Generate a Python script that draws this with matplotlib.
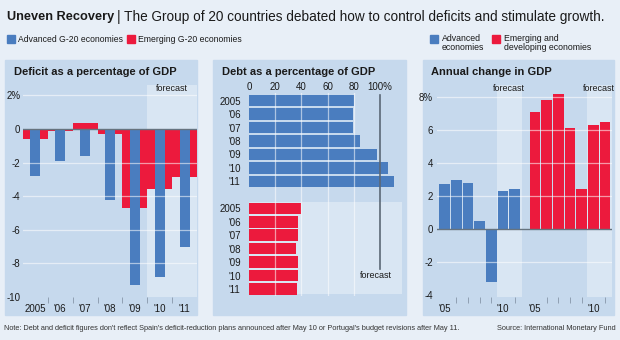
import numpy as np
import matplotlib
matplotlib.use('Agg')
import matplotlib.pyplot as plt
from matplotlib import font_manager
from matplotlib.patches import Rectangle
from matplotlib.text import Annotation

# narrow face if the system has it
installed = {f.name for f in font_manager.fontManager.ttflist}
face = 'Liberation Sans Narrow' if 'Liberation Sans Narrow' in installed else 'Liberation Sans'
plt.rcParams['font.family'] = [face, 'DejaVu Sans']

years = ['2005', "'06", "'07", "'08", "'09", "'10", "'11"]
deficit_advanced = [-2.8, -1.9, -1.6, -4.2, -9.3, -8.8, -7.0]
deficit_emerging = [-0.6, -0.1, 0.35, -0.3, -4.7, -3.6, -2.85]
debt_advanced = [80, 79.5, 79, 85, 98, 106, 111]
debt_emerging = [40, 37.5, 37.5, 35.5, 37.5, 37.5, 36.5]
gdp_advanced = [2.7, 3.0, 2.8, 0.5, -3.2, 2.3, 2.4]
gdp_emerging = [7.1, 7.8, 8.2, 6.1, 2.4, 6.3, 6.5]

BG = '#e8eff7'
PANEL = '#c6d9ed'
FORECAST = '#d9e6f3'
BLUE = '#4a7dbf'
RED = '#ec1a3d'
ZERO = '#66737f'
INK = '#1a1a1a'

W, H = 620, 340
fig = plt.figure(figsize=(W / 100, H / 100), dpi=100, facecolor=BG)


def box(x0, y0, x1, y1):
    # pixel box (top-left origin) -> figure fraction rect
    return [x0 / W, 1 - y1 / H, (x1 - x0) / W, (y1 - y0) / H]


def fx(x):
    return x / W


def fy(y):
    return 1 - y / H


def clean(ax):
    ax.set_facecolor('none')
    for s in ax.spines.values():
        s.set_visible(False)
    ax.tick_params(length=0, labelsize=7, colors=INK)


# panel backgrounds
for x0, x1 in [(5, 197), (213, 406), (423, 614)]:
    fig.add_artist(Rectangle((fx(x0), fy(315)), (x1 - x0) / W, 255 / H,
                             transform=fig.transFigure, color=PANEL, zorder=0))

# headline
t1 = fig.text(fx(7), fy(17), 'Uneven Recovery', fontsize=9.2, fontweight='bold',
              va='center', color=INK)
fig.add_artist(Annotation('| The Group of 20 countries debated how to control deficits and stimulate growth.',
                          xy=(1, 0.5), xycoords=t1, xytext=(2, 0), textcoords='offset points',
                          va='center', fontsize=9.8, color=INK))


# legends
def swatch(x, y, color):
    fig.add_artist(Rectangle((fx(x), fy(y + 4)), 8 / W, 8 / H,
                             transform=fig.transFigure, color=color))


swatch(7, 39, BLUE)
fig.text(fx(18), fy(39), 'Advanced G-20 economies', fontsize=6.2, va='center', color=INK)
swatch(127, 39, RED)
fig.text(fx(138), fy(39), 'Emerging G-20 economies', fontsize=6.2, va='center', color=INK)
swatch(430, 39, BLUE)
fig.text(fx(442), fy(34), 'Advanced\neconomies', fontsize=6.3, va='top', color=INK, linespacing=1.05)
swatch(492, 39, RED)
fig.text(fx(504), fy(34), 'Emerging and\ndeveloping economies', fontsize=6.3, va='top', color=INK,
         linespacing=1.05)

# panel titles
for x, title in [(14, 'Deficit as a percentage of GDP'), (222, 'Debt as a percentage of GDP'),
                 (431, 'Annual change in GDP')]:
    fig.text(fx(x), fy(72), title, fontsize=8, fontweight='bold', va='center', color=INK)

# --- deficit ---
ax1 = fig.add_axes(box(23, 85, 197, 297))
clean(ax1)
x = np.arange(len(years))
ax1.axvspan(4.5, 6.5, color=FORECAST, zorder=0, lw=0)
ax1.bar(x, deficit_emerging, width=1.0, color=RED, zorder=2)
ax1.bar(x, deficit_advanced, width=0.4, color=BLUE, zorder=3)
for g in [2, -2, -4, -6, -8]:
    ax1.axhline(g, color='white', lw=0.9, alpha=0.55, zorder=4)
ax1.axhline(0, color=ZERO, lw=1.0, zorder=5)
ax1.set_xlim(-0.5, 6.5)
ax1.set_ylim(-10, 2.62)
ax1.set_yticks([2, 0, -2, -4, -6, -8, -10])
ax1.set_yticklabels(['2%', '0', '-2', '-4', '-6', '-8', '-10'])
ax1.set_xticks(x)
ax1.set_xticklabels(years)
ax1.set_xticks(x[:-1] + 0.5, minor=True)
ax1.tick_params(axis='y', pad=2)
ax1.tick_params(axis='x', pad=5)
ax1.tick_params(axis='x', which='minor', length=4, width=0.6, color='#8797aa', direction='out')
ax1.text(5.5, 0.985, 'forecast', transform=ax1.get_xaxis_transform(), fontsize=6.5,
         ha='center', va='center', color=INK)

# --- debt ---
ax2 = fig.add_axes(box(249, 93, 406, 296))
clean(ax2)
rows_adv = np.arange(7)
rows_em = np.arange(8, 15)
ax2.fill_between([0, 117], 7.55, 14.4, color=FORECAST, lw=0, zorder=0)
ax2.barh(rows_adv, debt_advanced, height=0.86, color=BLUE, zorder=2)
ax2.barh(rows_em, debt_emerging, height=0.86, color=RED, zorder=2)
for g in [20, 40, 60, 80]:
    ax2.axvline(g, color='white', lw=0.9, alpha=0.55, zorder=4)
ax2.plot([100, 100], [-0.45, 12.55], color='#5b6876', lw=1.2, zorder=5)
ax2.text(97, 13, 'forecast', fontsize=6.5, ha='center', va='center', color=INK)
ax2.set_xlim(0, 119.8)
ax2.set_ylim(14.52, -0.57)
ax2.xaxis.tick_top()
ax2.set_xticks([0, 20, 40, 60, 80, 100])
ax2.set_xticklabels(['0', '20', '40', '60', '80', '100%'])
ax2.set_yticks(np.concatenate([rows_adv, rows_em]))
ax2.set_yticklabels(years + years)
ax2.tick_params(axis='x', pad=1)
ax2.tick_params(axis='y', pad=6)

# --- GDP ---
ax3 = fig.add_axes(box(437, 85, 612, 297))
clean(ax3)
xa = np.arange(7)
xe = np.arange(7) + 7.75
ax3.axvspan(4.45, 6.6, color=FORECAST, zorder=0, lw=0)
ax3.axvspan(12.2, 14.35, color=FORECAST, zorder=0, lw=0)
ax3.bar(xa, gdp_advanced, width=0.92, color=BLUE, zorder=2)
ax3.bar(xe, gdp_emerging, width=0.92, color=RED, zorder=2)
for g in [8, 6, 4, 2, -2]:
    ax3.axhline(g, color='white', lw=0.9, alpha=0.55, zorder=4)
ax3.axhline(0, color=ZERO, lw=1.0, zorder=5)
ax3.set_xlim(-0.65, 14.35)
ax3.set_ylim(-4.12, 8.73)
ax3.set_yticks([8, 6, 4, 2, 0, -2, -4])
ax3.set_yticklabels(['8%', '6', '4', '2', '0', '-2', '-4'])
ax3.set_xticks([xa[0], xa[5], xe[0], xe[5]])
ax3.set_xticklabels(["'05", "'10", "'05", "'10"])
ax3.set_xticks(np.concatenate([xa[[1, 2, 3, 4, 6]], xe[[1, 2, 3, 4, 6]]]), minor=True)
ax3.tick_params(axis='y', pad=3)
ax3.tick_params(axis='x', pad=5)
ax3.tick_params(axis='x', which='minor', length=4, width=0.6, color='#8797aa', direction='out')
for xf in [5.5, 13.2]:
    ax3.text(xf, 0.985, 'forecast', transform=ax3.get_xaxis_transform(), fontsize=6.5,
             ha='center', va='center', color=INK)

# footer
fig.text(fx(4), fy(329), "Note: Debt and deficit figures don't reflect Spain's deficit-reduction plans "
         "announced after May 10 or Portugal's budget revisions after May 11.",
         fontsize=5.3, va='center', color='#333333')
fig.text(fx(616), fy(329), 'Source: International Monetary Fund', fontsize=5.3,
         va='center', ha='right', color='#333333')

fig.savefig('out.png', dpi=100, facecolor=BG)
